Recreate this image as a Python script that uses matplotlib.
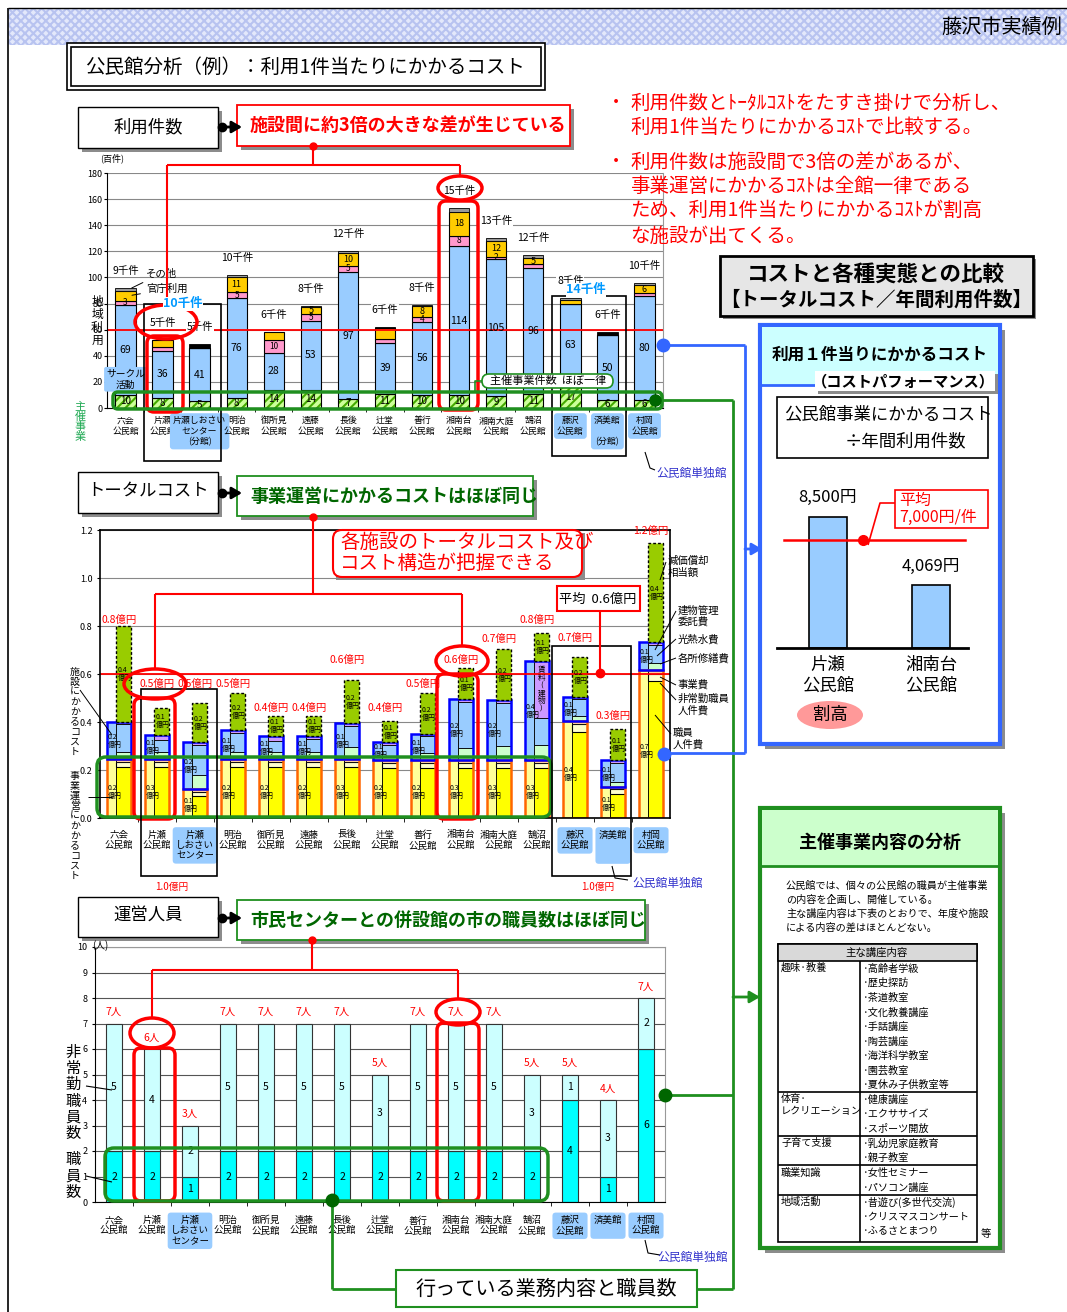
import numpy as np
import matplotlib
matplotlib.use('Agg')
import matplotlib.pyplot as plt
from matplotlib.patches import Rectangle, FancyBboxPatch, Ellipse

plt.rcParams['font.family'] = ['Noto Sans CJK JP', 'DejaVu Sans']
plt.rcParams['hatch.linewidth'] = 1.5

W, H = 1067, 1312

# ---------------- data ----------------
names_use = ['六会\n公民館', '片瀬\n公民館', '片瀬しおさい\nセンター\n(分館)', '明治\n公民館', '御所見\n公民館',
             '遠藤\n公民館', '長後\n公民館', '辻堂\n公民館', '善行\n公民館', '湘南台\n公民館',
             '湘南大庭\n公民館', '鵠沼\n公民館', '藤沢\n公民館', '済美館\n\n(分館)', '村岡\n公民館']
names_cost = ['六会\n公民館', '片瀬\n公民館', '片瀬\nしおさい\nセンター', '明治\n公民館', '御所見\n公民館',
              '遠藤\n公民館', '長後\n公民館', '辻堂\n公民館', '善行\n公民館', '湘南台\n公民館',
              '湘南大庭\n公民館', '鵠沼\n公民館', '藤沢\n公民館', '済美館\n\n', '村岡\n公民館']
names_staff = ['六会\n公民館', '片瀬\n公民館', '片瀬\nしおさい\nセンター', '明治\n公民館', '御所見\n公民館',
               '遠藤\n公民館', '長後\n公民館', '辻堂\n公民館', '善行\n公民館', '湘南台\n公民館',
               '湘南大庭\n公民館', '鵠沼\n公民館', '藤沢\n公民館', '済美館\n', '村岡\n公民館']
blue_label = [2, 12, 13, 14]

# 利用件数 (百件)
use_event = [10, 8, 5, 8, 14, 14, 7, 11, 10, 10, 9, 11, 17, 6, 6]
use_circle = [69, 36, 41, 76, 28, 53, 97, 39, 56, 114, 105, 96, 63, 50, 80]
use_pink = [3, 3, 0, 5, 10, 5, 5, 3, 4, 8, 2, 3, 0, 0, 2]
use_yellow = [8, 5, 0, 11, 6, 5, 10, 8, 8, 18, 12, 5, 3, 0, 6]
use_misc = [2, 0, 3, 2, 0, 1, 1, 1, 1, 3, 2, 2, 1, 2, 2]
pink_lbl = ['3', '', '', '5', '10', '5', '5', '', '4', '8', '2', '', '', '', '']
yellow_lbl = ['', '', '', '11', '', '5', '10', '', '8', '18', '12', '5', '', '', '6']
misc_col = ['#999999', '#999999', '#000000', '#999999', '#999999', '#999999', '#999999', '#000000',
            '#999999', '#999999', '#999999', '#999999', '#999999', '#000000', '#999999']
use_total_k = [9, 5, 5, 10, 6, 8, 12, 6, 8, 15, 13, 12, 8, 6, 10]

# トータルコスト (億円)
ops = [0.245, 0.245, 0.12, 0.245, 0.245, 0.245, 0.245, 0.24, 0.24, 0.24, 0.24, 0.24, 0.405, 0.13, 0.617]
ops_part = [0.02, 0.02, 0.02, 0.02, 0.02, 0.02, 0.02, 0.02, 0.02, 0.02, 0.02, 0.02, 0.03, 0.02, 0.03]
ops_event = [0.012, 0.012, 0.01, 0.012, 0.012, 0.012, 0.012, 0.012, 0.012, 0.012, 0.012, 0.012, 0.015, 0.01, 0.015]
fac = [0.155, 0.10, 0.195, 0.12, 0.095, 0.095, 0.15, 0.075, 0.11, 0.255, 0.25, 0.415, 0.10, 0.11, 0.115]
fac_util = [0.03, 0.03, 0.06, 0.03, 0.03, 0.03, 0.05, 0.02, 0.03, 0.05, 0.06, 0.065, 0.02, 0.02, 0.03]
fac_repair = [0.01, 0.02, 0.01, 0.01, 0.02, 0.01, 0.01, 0.01, 0.01, 0.01, 0.01, 0.24, 0.01, 0.01, 0.01]
dep = [0.40, 0.115, 0.165, 0.155, 0.085, 0.085, 0.18, 0.09, 0.17, 0.13, 0.215, 0.115, 0.165, 0.13, 0.415]
ops_lbl = ['0.2', '0.3', '0.1', '0.2', '0.2', '0.2', '0.3', '0.2', '0.2', '0.3', '0.3', '0.3', '0.4', '0.1', '0.7']
fac_lbl = ['0.2', '0.1', '0.2', '0.1', '0.1', '0.1', '0.1', '0.1', '0.1', '0.2', '0.2', '0.4', '0.1', '0.1', '0.1']
dep_lbl = ['0.4', '0.1', '0.2', '0.2', '0.1', '0.1', '0.2', '0.1', '0.2', '0.1', '0.2', '0.1', '0.2', '0.1', '0.4']
cost_total = ['0.8億円', '0.5億円', '0.5億円', '0.5億円', '0.4億円', '0.4億円', '0.6億円', '0.4億円',
              '0.5億円', '0.6億円', '0.7億円', '0.8億円', '0.7億円', '0.3億円', '1.2億円']
cost_total_y = [0.825, 0.557, 0.557, 0.557, 0.46, 0.46, 0.657, 0.458, 0.557, 0.657, 0.746, 0.825,
                0.75, 0.425, 1.196]
cost_avg = 0.6

# 運営人員 (人)
staff_full = [2, 2, 1, 2, 2, 2, 2, 2, 2, 2, 2, 2, 4, 1, 6]
staff_part = [5, 4, 2, 5, 5, 5, 5, 3, 5, 5, 5, 3, 1, 3, 2]
staff_total_lbl = ['7人', '6人', '3人', '7人', '7人', '7人', '7人', '5人', '7人', '7人', '7人', '5人',
                   '5人', '4人', '7人']

# 利用1件当りコスト (円)
cpu_names = ['片瀬\n公民館', '湘南台\n公民館']
cpu_vals = [8500, 4069]
cpu_avg = 7000

# 主な講座内容
course_rows = [
    ('趣味·教養', ['高齢者学級', '歴史探訪', '茶道教室', '文化教養講座', '手話講座', '陶芸講座',
               '海洋科学教室', '園芸教室', '夏休み子供教室等']),
    ('体育·\nレクリエーション', ['健康講座', 'エクササイズ', 'スポーツ開放']),
    ('子育て支援', ['乳幼児家庭教育', '親子教室']),
    ('職業知識', ['女性セミナー', 'パソコン講座']),
    ('地域活動', ['昔遊び(多世代交流)', 'クリスマスコンサート', 'ふるさとまつり']),
]

RED = '#ff0000'
GREEN = '#1f8f1f'
BLUE = '#3366ff'

fig = plt.figure(figsize=(W / 100, H / 100), dpi=100)


def px_ax(x0, y0, x1, y1):
    return fig.add_axes([x0 / W, 1 - y1 / H, (x1 - x0) / W, (y1 - y0) / H])


def style_cats(ax, names, fs=6.8, pad=6):
    ax.set_xlim(-0.5, 14.5)
    ax.set_xticks(np.arange(15), names, fontsize=fs, linespacing=1.2)
    ax.set_xticks(np.arange(0.5, 14, 1), minor=True)
    ax.tick_params(axis='x', which='major', length=0, pad=pad)
    ax.tick_params(axis='x', which='minor', length=3)
    ax.tick_params(axis='y', labelsize=6.5, length=2)
    for i in blue_label:
        ax.get_xticklabels()[i].set_bbox(dict(boxstyle='round,pad=0.35', fc='#99ccff', ec='none'))
    ax.set_facecolor('none')
    ax.set_axisbelow(True)


x = np.arange(15)

# ---------------- chart 1: 利用件数 ----------------
ax1 = px_ax(107, 173, 663, 408)
ax1.set_ylim(0, 180)
ax1.set_yticks(range(0, 181, 20))
ax1.yaxis.grid(True, color='#888888', lw=0.8)
style_cats(ax1, names_use, fs=6.4)
ax1.tick_params(axis='y', pad=1)
ax1.spines['top'].set_visible(False)
ax1.spines['right'].set_color('#999999')
bw = 0.55
bottom = np.zeros(15)
segs = [(use_event, '#ccff99', '#44aa00', '////'), (use_circle, '#99ccff', None, None),
        (use_pink, '#ff99cc', None, None), (use_yellow, '#ffcc00', None, None)]
for vals, fc, hc, hatch in segs:
    v = np.array(vals, float)
    if hatch:
        ax1.bar(x, v, bw, bottom=bottom, color=fc, edgecolor=hc, hatch=hatch, lw=0)
        ax1.bar(x, v, bw, bottom=bottom, fill=False, edgecolor='k', lw=0.8)
    else:
        ax1.bar(x, v, bw, bottom=bottom, color=fc, edgecolor='k', lw=0.8)
    bottom += v
ax1.bar(x, use_misc, bw, bottom=bottom, color=misc_col, edgecolor='k', lw=0.6)
totals = bottom + np.array(use_misc)
for i in range(15):
    ax1.text(i, use_event[i] / 2, str(use_event[i]), ha='center', va='center', fontsize=7)
    b = use_event[i]
    ax1.text(i, b + use_circle[i] / 2, str(use_circle[i]), ha='center', va='center', fontsize=7.5)
    b += use_circle[i]
    if pink_lbl[i]:
        ax1.text(i, b + use_pink[i] / 2, pink_lbl[i], ha='center', va='center', fontsize=6)
    b += use_pink[i]
    if yellow_lbl[i]:
        ax1.text(i, b + use_yellow[i] / 2, yellow_lbl[i], ha='center', va='center', fontsize=6.5)
    ax1.text(i, totals[i] + 13, f'{use_total_k[i]}千件', ha='center', va='center', fontsize=7.5,
             bbox=dict(fc='white', ec='none', pad=0.5))
ax1.axhline(60, color=RED, lw=1.3)
ax1.annotate('その他', xy=(0.1, totals[0] - 1), xytext=(0.55, 103), fontsize=7.5, va='center',
             arrowprops=dict(arrowstyle='-', color='k', lw=0.7))
ax1.annotate('官庁利用', xy=(0.1, 86), xytext=(0.55, 91), fontsize=7.5, va='center',
             arrowprops=dict(arrowstyle='-', color='k', lw=0.7))
ax1.text(0, 22, 'サークル\n活動', ha='center', va='center', fontsize=7, linespacing=1.1,
         bbox=dict(boxstyle='round,pad=0.2', fc='#99ccff', ec='none'))

# ---------------- chart 2: トータルコスト ----------------
ax2 = px_ax(100, 530, 670, 818)
ax2.set_ylim(0, 1.2)
ax2.set_yticks(np.arange(0, 1.21, 0.2), [f'{v:.1f}' for v in np.arange(0, 1.21, 0.2)])
ax2.yaxis.grid(True, color='#888888', lw=0.8)
style_cats(ax2, names_cost, pad=9)
for s in ax2.spines.values():
    s.set_linewidth(1.2)
xl = x - 0.31
xr = x - 0.09
wl, wr = 0.22, 0.40
ops_a, fac_a, dep_a = np.array(ops), np.array(fac), np.array(dep)
ax2.bar(xl, ops_a, wl, align='edge', color='#ffff99', edgecolor='k', lw=0.6)
ax2.bar(xl, fac_a, wl, bottom=ops_a, align='edge', color='#99ccff', edgecolor='k', lw=0.6)
staff_cost = ops_a - np.array(ops_part) - np.array(ops_event)
ax2.bar(xr, staff_cost, wr, align='edge', color='#ffff00', edgecolor='k', lw=0.6)
ax2.bar(xr, ops_part, wr, bottom=staff_cost, align='edge', color='#ffffcc', edgecolor='k', lw=0.8)
ax2.bar(xr, ops_event, wr, bottom=staff_cost + np.array(ops_part), align='edge', color='#ffcc99',
        edgecolor='k', lw=0.6)
ax2.bar(xr, fac_util, wr, bottom=ops_a, align='edge', color='#ccffcc', edgecolor='k', lw=0.6)
bld = fac_a - np.array(fac_util) - np.array(fac_repair)
ax2.bar(xr, bld, wr, bottom=ops_a + np.array(fac_util), align='edge', color='#99ccff', edgecolor='k', lw=0.6)
ax2.bar(xr, fac_repair, wr, bottom=ops_a + fac_a - np.array(fac_repair), align='edge', color='#cc99ff',
        edgecolor='k', lw=0.6)
ax2.bar(xl, ops_a, wl + wr, align='edge', fill=False, edgecolor='#ff6600', lw=1.8)
ax2.bar(xl, fac_a, wl + wr, bottom=ops_a, align='edge', fill=False, edgecolor='#0000ff', lw=1.8)
ax2.bar(xr, dep_a, wr, bottom=ops_a + fac_a, align='edge', color='#99cc00', edgecolor='k', lw=1.0,
        linestyle=(0, (2, 1.5)))
for i in range(15):
    ax2.text(xl[i] + 0.02, ops[i] * 0.45, ops_lbl[i] + '\n億円', fontsize=5, va='center', ha='left',
             linespacing=1.0)
    ax2.text(xl[i] + 0.02, ops[i] + fac[i] / 2, fac_lbl[i] + '\n億円', fontsize=5, va='center', ha='left',
             linespacing=1.0)
    ax2.text(xr[i] + 0.05, ops[i] + fac[i] + dep[i] / 2, dep_lbl[i] + '\n億円', fontsize=5, va='center',
             ha='left', linespacing=1.0)
    ax2.text(i, cost_total_y[i], cost_total[i], color=RED, fontsize=7.5, ha='center', va='center')
ax2.text(xr[11] + wr / 2, ops[11] + fac[11] - fac_repair[11] / 2, '賃\n料\n(\n建\n物\n)', fontsize=5.5,
         ha='center', va='center', linespacing=0.95)
ax2.axhline(cost_avg, color=RED, lw=1.3)

# ---------------- chart 3: 運営人員 ----------------
ax3 = px_ax(95, 947, 665, 1202)
ax3.set_ylim(0, 10)
ax3.set_yticks(range(0, 11))
ax3.yaxis.grid(True, color='#555555', lw=0.8)
style_cats(ax3, names_staff, pad=10)
ax3.spines['top'].set_color('#999999')
ax3.spines['right'].set_color('#999999')
sw = 0.42
ax3.bar(x, staff_full, sw, color='#00ffff', edgecolor='#333333', lw=0.8)
ax3.bar(x, staff_part, sw, bottom=staff_full, color='#ccffff', edgecolor='#333333', lw=0.8)
for i in range(15):
    ax3.text(i, staff_full[i] / 2, str(staff_full[i]), ha='center', va='center', fontsize=7.5)
    ax3.text(i, staff_full[i] + staff_part[i] / 2, str(staff_part[i]), ha='center', va='center', fontsize=7.5)
    ax3.text(i, staff_full[i] + staff_part[i] + 0.45, staff_total_lbl[i], color=RED,
             ha='center', va='center', fontsize=7.5, bbox=dict(fc='white', ec='none', pad=0.3))

# ---------------- mini chart: 利用1件当りコスト ----------------
ax4 = px_ax(777, 470, 968, 648)
ax4.bar([0, 1], cpu_vals, 0.36, color='#99ccff', edgecolor='k', lw=1.2)
ax4.set_xlim(-0.495, 1.359)
ax4.set_ylim(0, 8500 * 178 / 131)
ax4.plot([-0.43, 1.33], [cpu_avg, cpu_avg], color=RED, lw=1.8)
ax4.plot([0.34], [cpu_avg], 'o', color=RED, ms=7)
for i, v in enumerate(cpu_vals):
    ax4.text(i, v + 700, f'{v:,}円', ha='center', va='bottom', fontsize=12)
ax4.set_xticks([0, 1], cpu_names, fontsize=12.5, linespacing=1.2)
ax4.set_yticks([])
ax4.tick_params(axis='x', length=0, pad=6)
for k in ['top', 'left', 'right']:
    ax4.spines[k].set_visible(False)
ax4.spines['bottom'].set_linewidth(2)
ax4.set_facecolor('none')

# ---------------- overlay (pixel coordinates) ----------------
ov = fig.add_axes([0, 0, 1, 1])
ov.set_xlim(0, W)
ov.set_ylim(H, 0)
ov.axis('off')
ov.set_zorder(10)
ov.patch.set_alpha(0)
ax4.set_zorder(11)


def rect(x0, y0, x1, y1, fc='white', ec='k', lw=1.0, shadow=0, r=None, z=2, ls='-'):
    if shadow:
        ov.add_patch(Rectangle((x0 + shadow, y0 + shadow), x1 - x0, y1 - y0, fc='#8c8c8c', ec='none',
                               zorder=z - 0.1))
    if r:
        p = FancyBboxPatch((x0, y0), x1 - x0, y1 - y0, boxstyle=f'round,pad=0,rounding_size={r}',
                           fc=fc, ec=ec, lw=lw, ls=ls, zorder=z)
    else:
        p = Rectangle((x0, y0), x1 - x0, y1 - y0, fc=fc, ec=ec, lw=lw, ls=ls, zorder=z)
    ov.add_patch(p)


def t(xx, yy, s, size, color='k', ha='center', va='center', weight='normal', z=4, **kw):
    ov.text(xx, yy, s, fontsize=size, color=color, ha=ha, va=va, fontweight=weight, zorder=z, **kw)


def ln(xs, ys, color, lw=1.5, z=3):
    ov.plot(xs, ys, color=color, lw=lw, zorder=z, solid_capstyle='butt')


def dot(xx, yy, color, ms=6, z=3):
    ov.plot([xx], [yy], 'o', color=color, ms=ms, zorder=z)


def arrow(x0, y0, x1, y1, color, lw=2):
    ov.annotate('', xy=(x1, y1), xytext=(x0, y0), zorder=3,
                arrowprops=dict(arrowstyle='-|>,head_length=0.6,head_width=0.35', color=color, lw=lw,
                                shrinkA=0, shrinkB=0))


def ring(cx, cy, w, h):
    ov.add_patch(Ellipse((cx, cy), w, h, fc='none', ec=RED, lw=2.5, zorder=3))


def vtext(xx, yy, s, size, color='k', ls=1.0, **kw):
    t(xx, yy, '\n'.join(s), size, color=color, linespacing=ls, **kw)


# header band
ov.add_patch(Rectangle((8, 9), W - 8, 36, fc='#e3e8fb', ec='#b8c3f0', hatch='xxxx', lw=0, zorder=1))
ln([8, 8], [8, H], 'k', 1.2)
ln([8, W], [8, 8], 'k', 1.0)
t(1062, 27, '藤沢市実績例', 14.5, ha='right')

# title
rect(67, 43, 545, 90, lw=1.2)
rect(71, 47, 541, 86, lw=1.2, fc='none')
t(85, 67, '公民館分析（例）：利用1件当たりにかかるコスト', 14, ha='left')

# red bullets
bul = [(103, '利用件数とﾄｰﾀﾙｺｽﾄをたすき掛けで分析し、', True), (127, '利用1件当たりにかかるｺｽﾄで比較する。', False),
       (162, '利用件数は施設間で3倍の差があるが、', True), (186, '事業運営にかかるｺｽﾄは全館一律である', False),
       (210, 'ため、利用1件当たりにかかるｺｽﾄが割高', False), (236, 'な施設が出てくる。', False)]
for yy, s, b in bul:
    if b:
        t(616, yy, '・', 13, color=RED)
    t(630, yy, s, 14, color=RED, ha='left')

# comparison title box
rect(720, 256, 1033, 316, fc='#e6e6e6', lw=2, shadow=3)
t(876, 274, 'コストと各種実態との比較', 15.5, weight='bold')
t(876, 300, '【トータルコスト／年間利用件数】', 14, weight='bold')

# ---- section 1
rect(78, 107, 218, 148, shadow=4)
t(148, 127, '利用件数', 12.5)
dot(222, 127, 'k', 6)
arrow(222, 127, 242, 127, 'k')
rect(237, 105, 570, 146, ec=RED, lw=1.3, shadow=4)
t(250, 125, '施設間に約3倍の大きな差が生じている', 13, color=RED, weight='bold', ha='left')
dot(313, 146, RED, 5)
ln([313, 313], [146, 165], RED)
ln([167, 460], [165, 165], RED)
ln([167, 167], [165, 306], RED)
ln([460, 460], [165, 176], RED)
t(112, 158, '(百件)', 6.5)
vtext(97, 321, '地域利用', 8.5)
vtext(80, 422, '主催事業', 8, color='#22aa55')
rect(144, 304, 221, 461, fc='none', lw=1.2)
rect(552, 296, 626, 456, fc='none', lw=1.2)
t(183, 304, '10千件', 9, color='#0099ff', weight='bold', bbox=dict(fc='white', ec='none', pad=0.3))
t(586, 290, '14千件', 9, color='#0099ff', weight='bold', bbox=dict(fc='white', ec='none', pad=0.3))
ring(166, 322, 62, 34)
ring(460, 188, 44, 24)
rect(147, 336, 183, 412, fc='none', ec=RED, lw=2.5, r=7)
rect(439, 201, 478, 410, fc='none', ec=RED, lw=2.5, r=7)
rect(113, 392, 662, 409, fc='none', ec=GREEN, lw=2.5, r=5)
rect(482, 374, 613, 388, ec=GREEN, lw=1.2, r=7, z=3)
t(548, 381, '主催事業件数  ほぼ一律', 8, z=4)
ln([482, 475, 475], [381, 381, 392], GREEN, 1.2)
t(692, 473, '公民館単独館', 8.5, color='#3333cc')
ln([645, 650, 655], [452, 468, 470], 'k', 0.8)

# ---- section 2
rect(78, 472, 218, 513, shadow=4)
t(148, 491, 'トータルコスト', 12.5)
dot(222, 493, 'k', 6)
arrow(222, 493, 242, 493, 'k')
rect(237, 476, 533, 516, ec=GREEN, lw=1.3, shadow=4)
t(250, 496, '事業運営にかかるコストはほぼ同じ', 13, color='#006600', weight='bold', ha='left')
dot(313, 517, RED, 5)
ln([313, 313], [517, 594], RED)
ln([155, 462], [594, 594], RED)
ln([155, 155], [594, 669], RED)
ln([462, 462], [594, 646], RED)
rect(333, 530, 582, 577, ec=RED, lw=1.5, r=9, shadow=3)
t(340, 553, '各施設のトータルコスト及び\nコスト構造が把握できる', 14, color=RED, ha='left', linespacing=1.05)
rect(557, 586, 640, 611, ec=RED, lw=1.5)
t(598, 599, '平均  0.6億円', 9.5)
ln([600, 600], [611, 673], RED)
dot(600, 673, RED, 6)
ring(155, 684, 62, 30)
ring(462, 661, 52, 30)
rect(134, 698, 175, 819, fc='none', ec=RED, lw=2.5, r=7)
rect(437, 674, 478, 819, fc='none', ec=RED, lw=2.5, r=7)
rect(97, 757, 551, 817, fc='none', ec=GREEN, lw=2.5, r=9)
rect(141, 689, 217, 876, fc='none', lw=1.2)
rect(552, 646, 631, 876, fc='none', lw=1.2)
t(172, 887, '1.0億円', 7, color=RED)
t(598, 887, '1.0億円', 7, color=RED)
t(668, 883, '公民館単独館', 8.5, color='#3333cc')
ln([612, 615, 628], [866, 878, 880], 'k', 0.8)
vtext(75, 712, '施設にかかるコスト', 7.2)
vtext(75, 826, '事業運営にかかるコスト', 7.2)
ln([80, 112], [690, 735], 'k', 0.7)
ln([88, 112], [797, 797], 'k', 0.7)
side = [(668, 567, '減価償却\n相当額', 660, 580), (678, 616, '建物管理\n委託費', 655, 650),
        (678, 639, '光熱水費', 657, 656), (678, 658, '各所修繕費', 660, 664),
        (678, 685, '事業費', 660, 677), (678, 705, '非常勤職員\n人件費', 660, 683),
        (673, 739, '職員\n人件費', 655, 715)]
for tx, ty, s, ex, ey in side:
    t(tx, ty, s, 7.5, ha='left', linespacing=1.15)
    ln([tx - 2, ex], [ty - 5 if '\n' in s else ty, ey], 'k', 0.7)
dot(664, 754, BLUE, 9)

# ---- section 3
rect(78, 897, 218, 937, shadow=4)
t(148, 916, '運営人員', 12.5)
dot(222, 918, 'k', 6)
arrow(222, 918, 242, 918, 'k')
rect(237, 900, 645, 940, ec=GREEN, lw=1.3, shadow=4)
t(250, 920, '市民センターとの併設館の市の職員数はほぼ同じ', 13, color='#006600', weight='bold', ha='left')
dot(312, 940, RED, 5)
ln([312, 312], [940, 970], RED)
ln([152, 458], [970, 970], RED)
ln([152, 152], [970, 1017], RED)
ln([458, 458], [970, 999], RED)
ring(152, 1033, 44, 30)
ring(458, 1012, 44, 26)
rect(134, 1048, 175, 1201, fc='none', ec=RED, lw=2.5, r=7)
rect(437, 1023, 479, 1201, fc='none', ec=RED, lw=2.5, r=7)
rect(105, 1148, 548, 1201, fc='none', ec=GREEN, lw=2.5, r=9)
t(100, 946, '(人)', 7)
vtext(73, 1093, '非常勤職員数', 11, ls=0.95)
vtext(73, 1176, '職員数', 11, ls=0.95)
ln([86, 112], [1086, 1090], 'k', 0.8)
ln([86, 112], [1176, 1182], 'k', 0.8)
t(693, 1257, '公民館単独館', 8.5, color='#3333cc')
ln([645, 648, 660], [1240, 1253, 1255], 'k', 0.8)

# bottom box
rect(396, 1270, 697, 1307, ec=GREEN, lw=1.5)
t(546, 1289, '行っている業務内容と職員数', 14.5)

# connectors
ln([655, 733], [400, 400], GREEN, 2)
ln([733, 733], [400, 1289], GREEN, 2)
ln([665, 733], [1095, 1095], GREEN, 2)
ln([697, 733], [1289, 1289], GREEN, 2)
ln([332, 332], [1200, 1289], GREEN, 2)
ln([332, 396], [1289, 1289], GREEN, 2)
dot(655, 400, '#006600', 8)
dot(665, 1095, '#006600', 9)
dot(332, 1200, '#006600', 9)
arrow(733, 997, 760, 997, GREEN, 2)
ln([663, 745], [345, 345], BLUE, 2)
ln([745, 745], [345, 753], BLUE, 2)
ln([664, 745], [753, 753], BLUE, 2)
dot(663, 345, BLUE, 9)
arrow(745, 549, 762, 549, BLUE, 2)

# right panel 1
rect(760, 325, 1000, 744, fc='white', ec=BLUE, lw=3, shadow=5, z=1.5)
ov.add_patch(Rectangle((762, 327), 236, 58, fc='#ccffff', ec='none', zorder=1.8))
ln([760, 1000], [385, 385], BLUE, 2, z=1.9)
t(880, 355, '利用１件当りにかかるコスト', 12, weight='bold')
rect(815, 371, 995, 391, fc='white', ec='none', shadow=3)
t(903, 381, '（コストパフォーマンス）', 11, weight='bold')
rect(777, 397, 988, 458, lw=1.2)
t(784, 415, '公民館事業にかかるコスト', 12.5, ha='left')
t(845, 441, '÷年間利用件数', 12.5, ha='left')
rect(895, 490, 988, 528, ec=RED, lw=1.2)
t(899, 509, '平均\n7,000円/件', 11.5, color=RED, ha='left', linespacing=1.05)
ln([868, 880, 895], [545, 503, 503], RED, 1.2)
ov.add_patch(Ellipse((830, 715), 66, 28, fc='#ff9999', ec='none', zorder=2))
t(830, 715, '割高', 12.5)

# right panel 2
rect(760, 808, 1000, 1248, fc='white', ec=GREEN, lw=3, shadow=5, z=1.5)
ov.add_patch(Rectangle((762, 810), 236, 56, fc='#ccffcc', ec='none', zorder=1.8))
ln([760, 1000], [866, 866], GREEN, 2, z=1.9)
t(880, 842, '主催事業内容の分析', 13, weight='bold')
body = ['公民館では、個々の公民館の職員が主催事業', 'の内容を企画し、開催している。',
        '主な講座内容は下表のとおりで、年度や施設', 'による内容の差はほとんどない。']
for k, s in enumerate(body):
    t(786, 886 + 14 * k, s, 7.3, ha='left')
rect(778, 944, 977, 1242, lw=1.2)
ov.add_patch(Rectangle((778, 944), 199, 17, fc='#d9d9d9', ec='k', lw=1.2, zorder=2.1))
t(877, 953, '主な講座内容', 7.5)
ln([860, 860], [961, 1242], 'k', 1.2)
yy = 961
step = 14.6
for cat, items in course_rows:
    t(781, yy + 2, cat, 7.3, ha='left', va='top', linespacing=1.25)
    for k, it in enumerate(items):
        t(863, yy + 7.5 + step * k, '·' + it, 7.3, ha='left')
    yy += step * len(items)
    if cat != '地域活動':
        ln([778, 977], [yy, yy], 'k', 1.2)
t(986, 1234, '等', 7.5)

fig.savefig('out.png', dpi=100)
